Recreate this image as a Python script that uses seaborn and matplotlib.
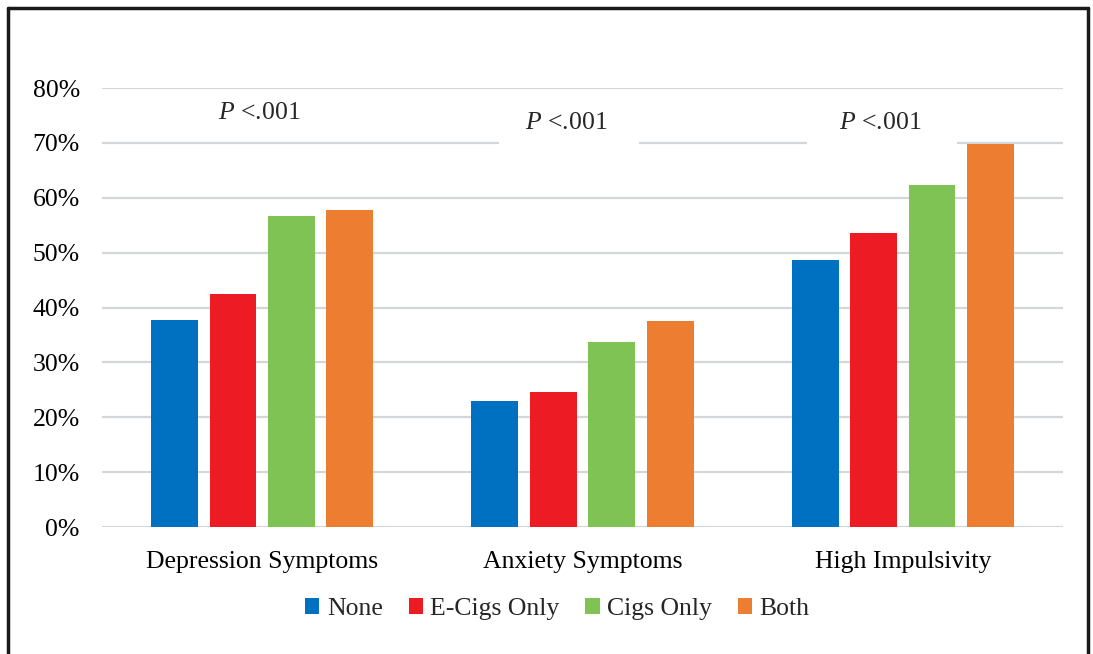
import numpy as np
import pandas as pd
import matplotlib
matplotlib.use("Agg")
import matplotlib.pyplot as plt
import seaborn as sns
from matplotlib.lines import Line2D
from matplotlib.patches import Rectangle

# data (percent)
outcomes = ["Depression Symptoms", "Anxiety Symptoms", "High Impulsivity"]
groups = ["None", "E-Cigs Only", "Cigs Only", "Both"]
none_vals = [37.7, 23.0, 48.6]
ecig_vals = [42.4, 24.6, 53.6]
cig_vals = [56.7, 33.7, 62.3]
both_vals = [57.7, 37.5, 69.8]
p_labels = ["<.001", "<.001", "<.001"]
colors = ["#0070C0", "#ED1C24", "#7FC355", "#ED7D31"]

df = pd.DataFrame({
    "outcome": outcomes * 4,
    "group": np.repeat(groups, 3),
    "pct": none_vals + ecig_vals + cig_vals + both_vals,
})

sns.set_style("white")
plt.rcParams["font.family"] = ["Liberation Serif", "DejaVu Serif"]
plt.rcParams["mathtext.fontset"] = "custom"
plt.rcParams["mathtext.rm"] = "Liberation Serif"
plt.rcParams["mathtext.it"] = "Liberation Serif:italic"

fig = plt.figure(figsize=(10.93, 6.54), dpi=100)
ax = fig.add_axes([0.0933, 0.194, 0.8793, 0.6714])

sns.barplot(data=df, x="outcome", y="pct", hue="group", hue_order=groups,
            order=outcomes, palette=colors, saturation=1, width=0.73, gap=0.2,
            edgecolor="none", ax=ax, zorder=3)

ax.set_ylim(0, 80)
ax.set_xlim(-0.5, 2.5)
ax.set_yticks(np.arange(0, 81, 10))
ax.set_yticklabels([f"{v}%" for v in range(0, 81, 10)])
ax.yaxis.grid(True, color="#d4d7da", linewidth=1.6, zorder=0)
ax.set_axisbelow(True)
for s in ax.spines.values():
    s.set_visible(False)
ax.tick_params(axis="both", length=0, labelsize=18.5, colors="black")
ax.tick_params(axis="y", pad=16)
ax.tick_params(axis="x", pad=17)
ax.set_xlabel("")
ax.set_ylabel("")

# P value annotations (white boxes break the 70% gridline)
p_pos = [(-0.01, 75.4), (-0.05, 73.6), (-0.07, 73.6)]
gaps = [None, (0.74, 1.175), (1.70, 2.17)]
for (dx, y), lab, i in zip(p_pos, p_labels, range(3)):
    ax.text(i + dx, y, r"$P$ " + lab, ha="center", va="center",
            fontsize=18.5, zorder=5)
    if gaps[i] is not None:
        ax.add_patch(Rectangle((gaps[i][0], 68.8), gaps[i][1] - gaps[i][0], 3.0,
                               facecolor="white", edgecolor="none", zorder=1))

sns.move_legend(ax, "center", bbox_to_anchor=(0.51, 0.069),
                bbox_transform=fig.transFigure, ncol=4, frameon=False,
                title=None, fontsize=18.5, handlelength=0.55, handleheight=0.55,
                handletextpad=0.3, columnspacing=1.0)

# outer frame
for xs, ys in [([0.0073, 0.0073], [0, 0.988]), ([0.0073, 0.9955], [0.988, 0.988]),
               ([0.9955, 0.9955], [0, 0.988])]:
    fig.add_artist(Line2D(xs, ys, color="#1a1a1a", linewidth=2.5,
                          transform=fig.transFigure))

fig.savefig("out.png", dpi=100, facecolor="white")
